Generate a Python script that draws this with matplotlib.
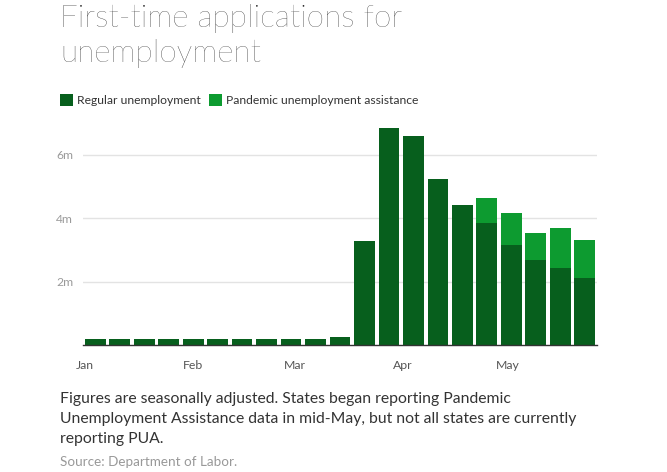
import matplotlib
matplotlib.use("Agg")
import matplotlib.pyplot as plt
import numpy as np
import datetime as dt
from matplotlib.patches import Patch

weeks = ["2020-01-04", "2020-01-11", "2020-01-18", "2020-01-25", "2020-02-01",
         "2020-02-08", "2020-02-15", "2020-02-22", "2020-02-29", "2020-03-07",
         "2020-03-14", "2020-03-21", "2020-03-28", "2020-04-04", "2020-04-11",
         "2020-04-18", "2020-04-25", "2020-05-02", "2020-05-09", "2020-05-16",
         "2020-05-23"]
regular = [0.21, 0.21, 0.21, 0.21, 0.21, 0.21, 0.21, 0.21, 0.21, 0.21,
           0.27, 3.28, 6.85, 6.60, 5.23, 4.42, 3.85, 3.16, 2.68, 2.43, 2.13]
pua = [0, 0, 0, 0, 0, 0, 0, 0, 0, 0,
       0, 0, 0, 0, 0, 0, 0.79, 1.00, 0.85, 1.26, 1.18]
month_ticks = ["2020-01-01", "2020-02-01", "2020-03-01", "2020-04-01", "2020-05-01"]
month_labels = ["Jan", "Feb", "Mar", "Apr", "May"]
y_ticks = [2, 4, 6]
y_labels = ["2m", "4m", "6m"]
title_lines = ["First-time applications for", "unemployment"]
caption_lines = ["Figures are seasonally adjusted. States began reporting Pandemic",
                 "Unemployment Assistance data in mid-May, but not all states are currently",
                 "reporting PUA."]
source = "Source: Department of Labor."

REG = "#075f1d"
PUA = "#0d9b30"
plt.rcParams["font.family"] = ["Lato", "DejaVu Sans"]

W, H = 667, 472
fig = plt.figure(figsize=(W / 100, H / 100), dpi=100)
ax = fig.add_axes([83 / W, 1 - 345.2 / H, 514 / W, (345.2 - 123) / H])

d0 = dt.date.fromisoformat(weeks[0])
x = np.array([(dt.date.fromisoformat(w) - d0).days / 7 for w in weeks])
ax.bar(x, regular, width=0.85, color=REG, zorder=3)
ax.bar(x, pua, bottom=regular, width=0.85, color=PUA, zorder=3)

ax.set_xlim(-0.5, 20.5)
ax.set_ylim(0, 7)
ax.set_yticks(y_ticks)
ax.set_yticklabels(y_labels)
mt = [(dt.date.fromisoformat(m) - d0).days / 7 for m in month_ticks]
ax.set_xticks(mt)
ax.set_xticklabels(month_labels)
ax.grid(axis="y", color="#e3e3e3", linewidth=1, zorder=0)
for s in ["top", "right", "left"]:
    ax.spines[s].set_visible(False)
ax.spines["bottom"].set_color("#333333")
ax.spines["bottom"].set_linewidth(1)
ax.spines["bottom"].set_zorder(4)
ax.tick_params(axis="y", length=0, pad=7, labelsize=8.7, labelcolor="#9a9a9a")
ax.tick_params(axis="x", length=0, pad=11, labelsize=8.8, labelcolor="#555555")

for line, yb in zip(title_lines, [27, 62]):
    fig.text(60 / W, 1 - yb / H, line, fontsize=22.8, fontweight="light",
             color="#222222", va="baseline")

handles = [Patch(facecolor=REG, edgecolor="none", label="Regular unemployment"),
           Patch(facecolor=PUA, edgecolor="none", label="Pandemic unemployment assistance")]
fig.legend(handles=handles, loc="center left", bbox_to_anchor=(60 / W, 1 - 100 / H),
           ncol=2, frameon=False, fontsize=8.7, handlelength=1.05, handleheight=1.2,
           handletextpad=0.35, columnspacing=0.7, labelcolor="#333333",
           borderaxespad=0, borderpad=0)

for line, yb in zip(caption_lines, [403, 423, 443]):
    fig.text(60 / W, 1 - yb / H, line, fontsize=11.3, color="#333333", va="baseline")
fig.text(60 / W, 1 - 466 / H, source, fontsize=9.7, color="#999999", va="baseline")

fig.savefig("out.png", dpi=100)
